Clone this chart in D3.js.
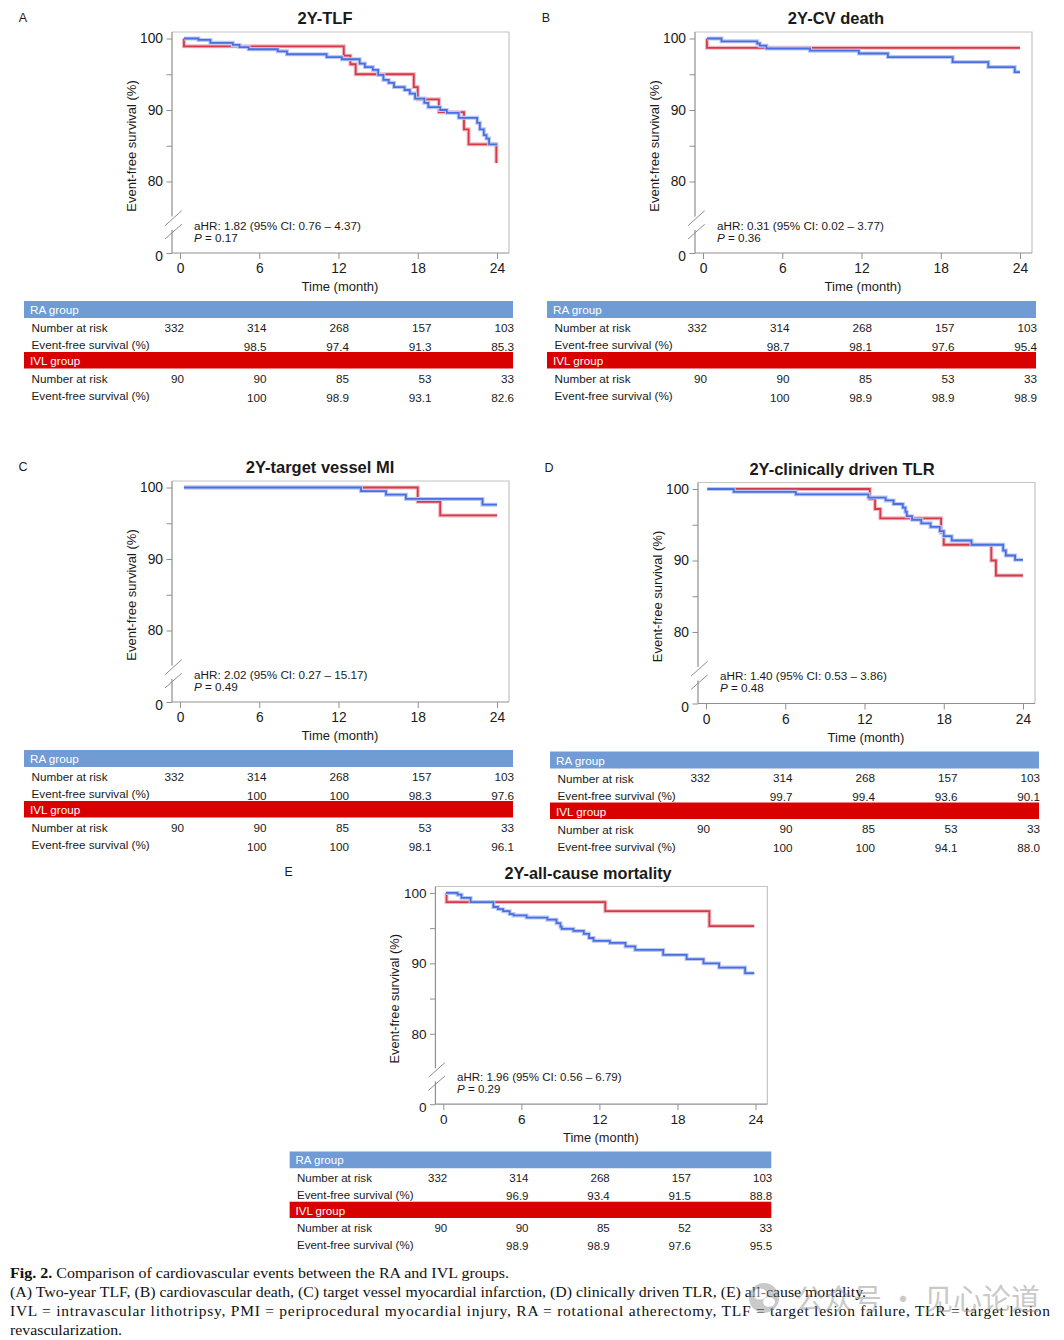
<!DOCTYPE html>
<html>
<head>
<meta charset="utf-8">
<script src="https://cdn.jsdelivr.net/npm/d3@7"></script>
<style>
  body { margin: 0; background: #fff; }
  svg { display: block; font-family: "Liberation Sans", Arial, sans-serif; }
</style>
</head>
<body>
<div id="fig"></div>
<script>
// ---------- data ----------
const months = [0, 6, 12, 18, 24];
const yTickValues = [0, 80, 90, 100];
const yMinorTicks = [85, 95];

const panelLetters = ['A', 'B', 'C', 'D', 'E'];
const panelTitles = ['2Y-TLF', '2Y-CV death', '2Y-target vessel MI', '2Y-clinically driven TLR', '2Y-all-cause mortality'];
const hrLabels = [
  'aHR: 1.82 (95% CI: 0.76 \u2013 4.37)',
  'aHR: 0.31 (95% CI: 0.02 \u2013 3.77)',
  'aHR: 2.02 (95% CI: 0.27 \u2013 15.17)',
  'aHR: 1.40 (95% CI: 0.53 \u2013 3.86)',
  'aHR: 1.96 (95% CI: 0.56 \u2013 6.79)'
];
const pValues = ['0.17', '0.36', '0.49', '0.48', '0.29'];

// number at risk / event-free survival (%) tables
const raAtRisk = [
  [332, 314, 268, 157, 103], [332, 314, 268, 157, 103], [332, 314, 268, 157, 103],
  [332, 314, 268, 157, 103], [332, 314, 268, 157, 103]
];
const ivlAtRisk = [
  [90, 90, 85, 53, 33], [90, 90, 85, 53, 33], [90, 90, 85, 53, 33],
  [90, 90, 85, 53, 33], [90, 90, 85, 52, 33]
];
const raSurvival = [
  [null, 98.5, 97.4, 91.3, 85.3], [null, 98.7, 98.1, 97.6, 95.4], [null, 100, 100, 98.3, 97.6],
  [null, 99.7, 99.4, 93.6, 90.1], [null, 96.9, 93.4, 91.5, 88.8]
];
const ivlSurvival = [
  [null, 100, 98.9, 93.1, 82.6], [null, 100, 98.9, 98.9, 98.9], [null, 100, 100, 98.1, 96.1],
  [null, 100, 100, 94.1, 88.0], [null, 98.9, 98.9, 97.6, 95.5]
];

// Kaplan-Meier steps [month, survival %]
const tlfRA = [[0.3, 100], [1.4, 99.8], [2.3, 99.4], [4.0, 99.1], [4.5, 98.8], [5.2, 98.5], [7.4, 98.2], [8.1, 97.8],
  [11.1, 97.4], [12.25, 97.1], [13.6, 96.5], [14.0, 96.0], [14.6, 95.6], [15.0, 94.9], [15.4, 94.2], [15.8, 93.8],
  [16.2, 93.2], [17.0, 92.8], [17.4, 92.3], [17.8, 91.6], [18.5, 91.0], [18.8, 90.4], [19.7, 90.0], [20.2, 89.6],
  [21.1, 88.9], [22.5, 88.2], [22.7, 87.3], [23.0, 86.5], [23.2, 86.0], [23.4, 85.2], [24.0, 85.2]];
const tlfIVL = [[0.3, 100], [0.3, 98.9], [12.4, 97.6], [12.9, 96.4], [13.3, 95.0], [17.7, 93.2], [18.0, 91.5],
  [19.6, 89.7], [21.5, 87.3], [21.85, 85.2], [23.95, 82.6]];

const cvRA = [[0.3, 100], [1.4, 99.6], [4.1, 99.3], [4.3, 99.0], [4.8, 98.6], [8.1, 98.3], [11.8, 97.9], [14.0, 97.4],
  [18.9, 96.7], [21.6, 96.0], [23.6, 95.3], [24.0, 95.3]];
const cvIVL = [[0.3, 100], [0.3, 98.7], [24.0, 98.7]];

const miRA = [[0.3, 100], [13.7, 99.5], [15.6, 99.0], [17.1, 98.4], [22.9, 97.6], [24.0, 97.6]];
const miIVL = [[0.3, 100], [18.0, 98.0], [19.7, 96.1], [24.0, 96.1]];

const tlrRA = [[0.1, 100], [2.1, 99.6], [6.8, 99.25], [12.3, 98.8], [13.6, 98.4], [14.2, 97.9], [14.9, 97.4],
  [15.1, 96.8], [15.2, 96.2], [15.6, 95.7], [16.3, 95.2], [17.0, 94.7], [17.7, 94.1], [18.0, 93.4], [18.6, 92.8],
  [20.1, 92.2], [22.5, 91.4], [22.7, 90.7], [23.4, 90.1], [24.0, 90.1]];
const tlrIVL = [[0.1, 100], [12.4, 98.6], [12.8, 97.2], [13.2, 95.9], [17.8, 93.9], [18.0, 92.2], [21.6, 90.0],
  [21.95, 87.9], [24.0, 87.9]];

const acmRA = [[0.2, 100], [1.1, 99.75], [1.4, 99.3], [2.1, 98.7], [3.85, 98.0], [4.2, 97.7], [4.6, 97.4], [5.1, 97.0],
  [5.4, 96.8], [6.4, 96.5], [8.0, 96.2], [8.7, 95.7], [9.0, 95.2], [9.1, 94.9], [10.0, 94.6], [10.8, 94.2],
  [11.2, 93.6], [11.55, 93.2], [12.8, 92.9], [14.0, 92.4], [14.75, 91.9], [16.9, 91.2], [18.7, 90.6], [20.0, 90.0],
  [21.2, 89.4], [23.2, 88.6], [23.9, 88.6]];
const acmIVL = [[0.2, 100], [0.25, 98.7], [12.45, 97.4], [20.45, 95.3], [23.9, 95.3]];

const raCurves = [tlfRA, cvRA, miRA, tlrRA, acmRA];
const ivlCurves = [tlfIVL, cvIVL, miIVL, tlrIVL, acmIVL];

const captionLines = [
  'Comparison of cardiovascular events between the RA and IVL groups.',
  '(A) Two-year TLF, (B) cardiovascular death, (C) target vessel myocardial infarction, (D) clinically driven TLR, (E) all-cause mortality.',
  'IVL = intravascular lithotripsy, PMI = periprocedural myocardial injury, RA = rotational atherectomy, TLF = target lesion failure, TLR = target lesion',
  'revascularization.'
];

// ---------- layout ----------
const W = 1064, H = 1340;
const box = { left: 172, right: 509, top: 32, bottom: 253 };
const breakGap = [216.5, 230];
const panels = [
  { dx: 0, dy: 0, s: 1, titleX: 325 },
  { dx: 523, dy: 0, s: 1, titleX: 313 },
  { dx: 0, dy: 449, s: 1, titleX: 320 },
  { dx: 526, dy: 450.5, s: 1, titleX: 316 },
  { dx: 266, dy: 855, s: 0.985, titleX: 327 }
];
const colors = {
  ra: '#4a6fe0', raHalo: '#bac8f4',
  ivl: '#d43b4a', ivlHalo: '#f1b9bf',
  raBar: '#709bd5', ivlBar: '#d90000',
  axis: '#8f8f8f', frame: '#c4c4c4', text: '#1a1a1a'
};

const x = d3.scaleLinear().domain([0, 24]).range([180, 497]);
const y = d3.scaleLinear().domain([0, 80, 100]).range([253, 181.5, 38.5]);
const colX = d3.scaleLinear().domain([0, 24]).range([184, 514]);

const svg = d3.select('#fig').append('svg')
  .attr('width', W)
  .attr('height', H);

svg.append('defs').append('clipPath')
  .attr('id', 'clip-right')
  .append('rect')
  .attr('x', 0).attr('y', 0)
  .attr('width', 1040).attr('height', H);

const line = d3.line()
  .x(d => x(d[0]))
  .y(d => y(d[1]))
  .curve(d3.curveStepAfter);

const fmtSurv = v => v === 100 ? '100' : v.toFixed(1);

function drawPanel(i) {
  const p = panels[i];
  const outer = svg.append('g');
  if (i === 3) outer.attr('clip-path', 'url(#clip-right)');
  const g = outer.append('g')
    .attr('transform', `translate(${p.dx},${p.dy}) scale(${p.s})`);

  // panel letter + title
  g.append('text')
    .attr('x', 23).attr('y', 21.5)
    .attr('text-anchor', 'middle')
    .attr('font-size', 12.5)
    .attr('fill', colors.text)
    .text(panelLetters[i]);
  g.append('text')
    .attr('x', p.titleX).attr('y', 24)
    .attr('text-anchor', 'middle')
    .attr('font-size', 16.5)
    .attr('font-weight', 'bold')
    .attr('fill', colors.text)
    .text(panelTitles[i]);

  // frame (top / right light gray)
  g.append('path')
    .attr('d', `M${box.left},${box.top}H${box.right}V${box.bottom}`)
    .attr('fill', 'none')
    .attr('stroke', colors.frame)
    .attr('stroke-width', 1.2);

  // y axis
  const yAxis = g.append('g')
    .attr('transform', `translate(${box.left},0)`)
    .call(d3.axisLeft(y).tickValues(yTickValues).tickSize(5.5).tickPadding(3.5));
  yAxis.append('g')
    .call(d3.axisLeft(y).tickValues(yMinorTicks).tickSize(5.5).tickFormat(''))
    .select('.domain').remove();
  yAxis.select('.domain').remove();
  yAxis.selectAll('line').attr('stroke', colors.axis);
  yAxis.selectAll('text')
    .attr('font-size', 13.8)
    .attr('font-family', '"Liberation Sans", Arial, sans-serif')
    .attr('fill', colors.text);
  yAxis.selectAll('.tick text').filter(d => d === 0).attr('dy', '0.55em');

  // broken y-axis line
  g.append('path')
    .attr('d', `M${box.left},${box.top}V${breakGap[0]}M${box.left},${breakGap[1]}V${box.bottom}`)
    .attr('stroke', colors.axis)
    .attr('stroke-width', 1.2);
  [[225.7, 210.7], [239, 224.3]].forEach(([y1, y2]) => {
    g.append('line')
      .attr('x1', 165).attr('y1', y1)
      .attr('x2', 181.7).attr('y2', y2)
      .attr('stroke', colors.axis)
      .attr('stroke-width', 1);
  });

  // x axis
  const xAxis = g.append('g')
    .attr('transform', `translate(0,${box.bottom})`)
    .call(d3.axisBottom(x).tickValues(months).tickSize(6).tickPadding(4.5));
  xAxis.select('.domain').remove();
  xAxis.selectAll('line').attr('stroke', colors.axis);
  xAxis.selectAll('text')
    .attr('font-size', 13.8)
    .attr('font-family', '"Liberation Sans", Arial, sans-serif')
    .attr('fill', colors.text);
  g.append('line')
    .attr('x1', box.left).attr('x2', box.right)
    .attr('y1', box.bottom).attr('y2', box.bottom)
    .attr('stroke', colors.axis)
    .attr('stroke-width', 1.2);

  // axis titles
  g.append('text')
    .attr('transform', 'translate(135.5,146) rotate(-90)')
    .attr('text-anchor', 'middle')
    .attr('font-size', 13)
    .attr('fill', colors.text)
    .text('Event-free survival (%)');
  g.append('text')
    .attr('x', 340).attr('y', 291)
    .attr('text-anchor', 'middle')
    .attr('font-size', 13)
    .attr('fill', colors.text)
    .text('Time (month)');

  // curves: IVL first, RA on top; opaque light halo under each line
  [[ivlCurves[i], colors.ivl, colors.ivlHalo], [raCurves[i], colors.ra, colors.raHalo]].forEach(([data, c, h]) => {
    g.append('path')
      .datum(data)
      .attr('d', line)
      .attr('fill', 'none')
      .attr('stroke', h)
      .attr('stroke-width', 4);
    g.append('path')
      .datum(data)
      .attr('d', line)
      .attr('fill', 'none')
      .attr('stroke', c)
      .attr('stroke-width', 1.8);
  });

  // hazard ratio annotation
  g.append('text')
    .attr('x', 194).attr('y', 229.5)
    .attr('font-size', 11.7)
    .attr('fill', colors.text)
    .text(hrLabels[i]);
  const pt = g.append('text')
    .attr('x', 194).attr('y', 241.5)
    .attr('font-size', 11.7)
    .attr('fill', colors.text);
  pt.append('tspan').attr('font-style', 'italic').text('P');
  pt.append('tspan').text(` = ${pValues[i]}`);

  // risk table
  const groups = [
    { name: 'RA group', fill: colors.raBar, top: 301, h: 17, risk: raAtRisk[i], surv: raSurvival[i] },
    { name: 'IVL group', fill: colors.ivlBar, top: 352, h: 16.5, risk: ivlAtRisk[i], surv: ivlSurvival[i] }
  ];
  groups.forEach(gr => {
    g.append('rect')
      .attr('x', 24).attr('y', gr.top)
      .attr('width', 489).attr('height', gr.h)
      .attr('fill', gr.fill);
    g.append('text')
      .attr('x', 30).attr('y', gr.top + 13)
      .attr('font-size', 11.7)
      .attr('fill', '#fff')
      .text(gr.name);
    const rNar = gr.top + 31, rEfs = gr.top + 48;
    g.append('text')
      .attr('x', 31.5).attr('y', rNar)
      .attr('font-size', 11.7).attr('fill', colors.text)
      .text('Number at risk');
    g.append('text')
      .attr('x', 31.5).attr('y', rEfs)
      .attr('font-size', 11.7).attr('fill', colors.text)
      .text('Event-free survival (%)');
    g.selectAll(null)
      .data(months.map((m, k) => [m, gr.risk[k]]))
      .join('text')
      .attr('x', d => colX(d[0]))
      .attr('y', rNar - 0.5)
      .attr('text-anchor', 'end')
      .attr('font-size', 11.7).attr('fill', colors.text)
      .text(d => d[1]);
    g.selectAll(null)
      .data(months.map((m, k) => [m, gr.surv[k]]).filter(d => d[1] !== null))
      .join('text')
      .attr('x', d => colX(d[0]))
      .attr('y', rEfs + 1.5)
      .attr('text-anchor', 'end')
      .attr('font-size', 11.7).attr('fill', colors.text)
      .text(d => fmtSurv(d[1]));
  });
}

panels.forEach((p, i) => drawPanel(i));

// ---------- caption ----------
const cap = svg.append('g')
  .attr('font-family', '"Liberation Serif", "Times New Roman", serif')
  .attr('font-size', 15.5)
  .attr('fill', '#111');
const capWidths = [499, 856, 1040, 112];
captionLines.forEach((t, k) => {
  const tx = cap.append('text')
    .attr('x', 10)
    .attr('y', 1278 + k * 19)
    .attr('textLength', capWidths[k])
    .attr('lengthAdjust', k === 2 ? 'spacing' : 'spacingAndGlyphs');
  if (k === 0) {
    tx.append('tspan').attr('font-weight', 'bold').text('Fig. 2.');
    tx.append('tspan').text(' ' + t);
  } else {
    tx.text(t);
  }
});

// watermark (sits over the caption in the source image)
const wm = svg.append('g').attr('opacity', 0.45);
wm.append('circle').attr('cx', 764).attr('cy', 1298).attr('r', 15).attr('fill', '#8a8a8a');
wm.append('ellipse').attr('cx', 760).attr('cy', 1294).attr('rx', 7).attr('ry', 5.5).attr('fill', '#fff');
wm.append('ellipse').attr('cx', 769).attr('cy', 1302).attr('rx', 6).attr('ry', 4.8).attr('fill', '#fff');
wm.append('text')
  .attr('x', 795).attr('y', 1310)
  .attr('font-family', '"Noto Sans CJK SC", sans-serif')
  .attr('font-size', 29)
  .attr('fill', '#8a8a8a')
  .text('公众号 · 见心论道');
</script>
</body>
</html>
